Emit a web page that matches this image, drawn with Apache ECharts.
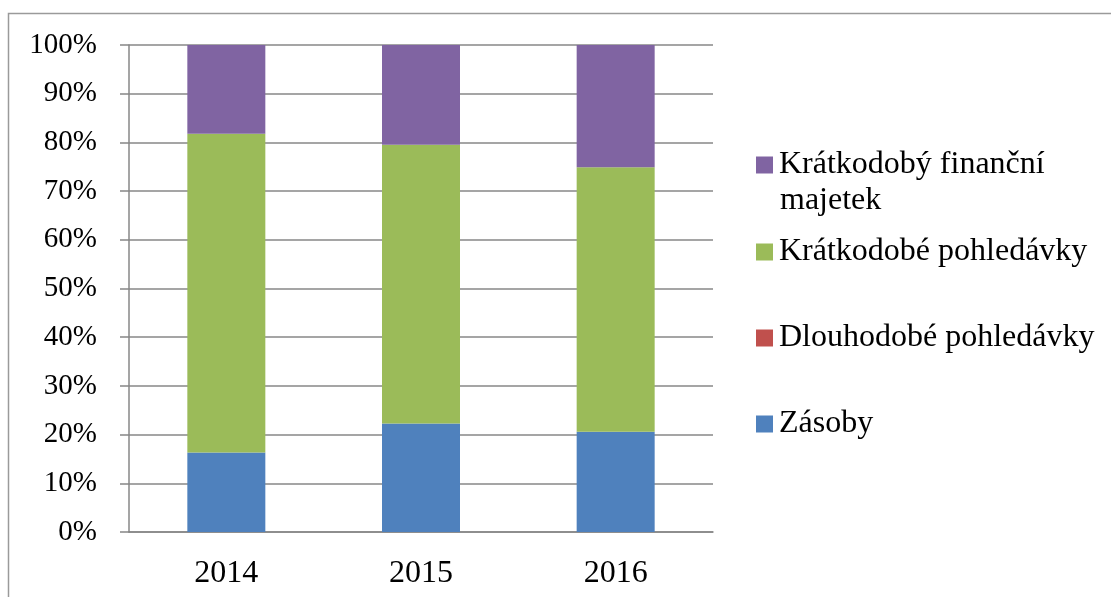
<!DOCTYPE html>
<html>
<head>
<meta charset="utf-8">
<script src="https://cdn.jsdelivr.net/npm/echarts@6/dist/echarts.min.js"></script>
<style>
  html, body { margin: 0; padding: 0; background: #fff; }
  #graph { width: 1111px; height: 597px; }
</style>
</head>
<body>
<div id="graph"></div>
<script>
var years = ['2014', '2015', '2016'];
var zasoby = [16.3, 22.3, 20.6];
var dlouhodobePohledavky = [0, 0, 0];
var kratkodobePohledavky = [65.5, 57.2, 54.3];
var financniMajetek = [18.2, 20.5, 25.1];
var yTicks = [0, 10, 20, 30, 40, 50, 60, 70, 80, 90, 100];

var chart = echarts.init(document.getElementById('graph'));
var font = '"Liberation Serif", "Times New Roman", serif';
var gridColor = '#878787';

function legendAt(name, top, label) {
    return {
        data: [name],
        left: 756,
        top: top,
        orient: 'vertical',
        itemWidth: 17,
        itemHeight: 17,
        itemGap: 0,
        padding: 0,
        selectedMode: false,
        icon: 'rect',
        formatter: function () { return label || name; },
        textStyle: { fontFamily: font, fontSize: 32, color: '#000', padding: [0, 0, 0, 1] }
    };
}

var option = {
    animation: false,
    backgroundColor: '#fff',
    grid: { left: 129, top: 45, right: 398, bottom: 65 },
    graphic: [{
        type: 'rect',
        shape: { x: 8.5, y: 13.5, width: 1200, height: 700 },
        style: { fill: 'none', stroke: '#9a9a9a', lineWidth: 1.5 },
        silent: true
    }, {
        type: 'text',
        left: 780,
        top: 185,
        style: { text: 'majetek', font: '32px ' + font, fill: '#000' }
    }],
    legend: [
        legendAt('Krátkodobý finanční majetek', 149, 'Krátkodobý finanční'),
        legendAt('Krátkodobé pohledávky', 236),
        legendAt('Dlouhodobé pohledávky', 322),
        legendAt('Zásoby', 408)
    ],
    xAxis: {
        type: 'category',
        data: years,
        axisLine: { lineStyle: { color: gridColor, width: 1.5 } },
        axisTick: { length: 9, lineStyle: { color: gridColor, width: 1.5 } },
        axisLabel: { margin: 26, fontFamily: font, fontSize: 32, color: '#000' }
    },
    yAxis: {
        type: 'value',
        min: yTicks[0],
        max: yTicks[yTicks.length - 1],
        interval: 10,
        axisLine: { show: true, lineStyle: { color: gridColor, width: 1.5 } },
        axisTick: { show: true, length: 9, lineStyle: { color: gridColor, width: 1.5 } },
        splitLine: { lineStyle: { color: gridColor, width: 1.5 } },
        axisLabel: {
            margin: 32,
            fontFamily: font,
            fontSize: 29,
            color: '#000',
            formatter: '{value}%'
        }
    },
    series: [{
        name: 'Zásoby',
        type: 'bar',
        stack: 'total',
        barWidth: 78,
        data: zasoby,
        itemStyle: { color: '#4F81BD' }
    }, {
        name: 'Dlouhodobé pohledávky',
        type: 'bar',
        stack: 'total',
        data: dlouhodobePohledavky,
        itemStyle: { color: '#C0504D' }
    }, {
        name: 'Krátkodobé pohledávky',
        type: 'bar',
        stack: 'total',
        data: kratkodobePohledavky,
        itemStyle: { color: '#9BBB59' }
    }, {
        name: 'Krátkodobý finanční majetek',
        type: 'bar',
        stack: 'total',
        data: financniMajetek,
        itemStyle: { color: '#8064A2' }
    }]
};

chart.setOption(option);
</script>
</body>
</html>
